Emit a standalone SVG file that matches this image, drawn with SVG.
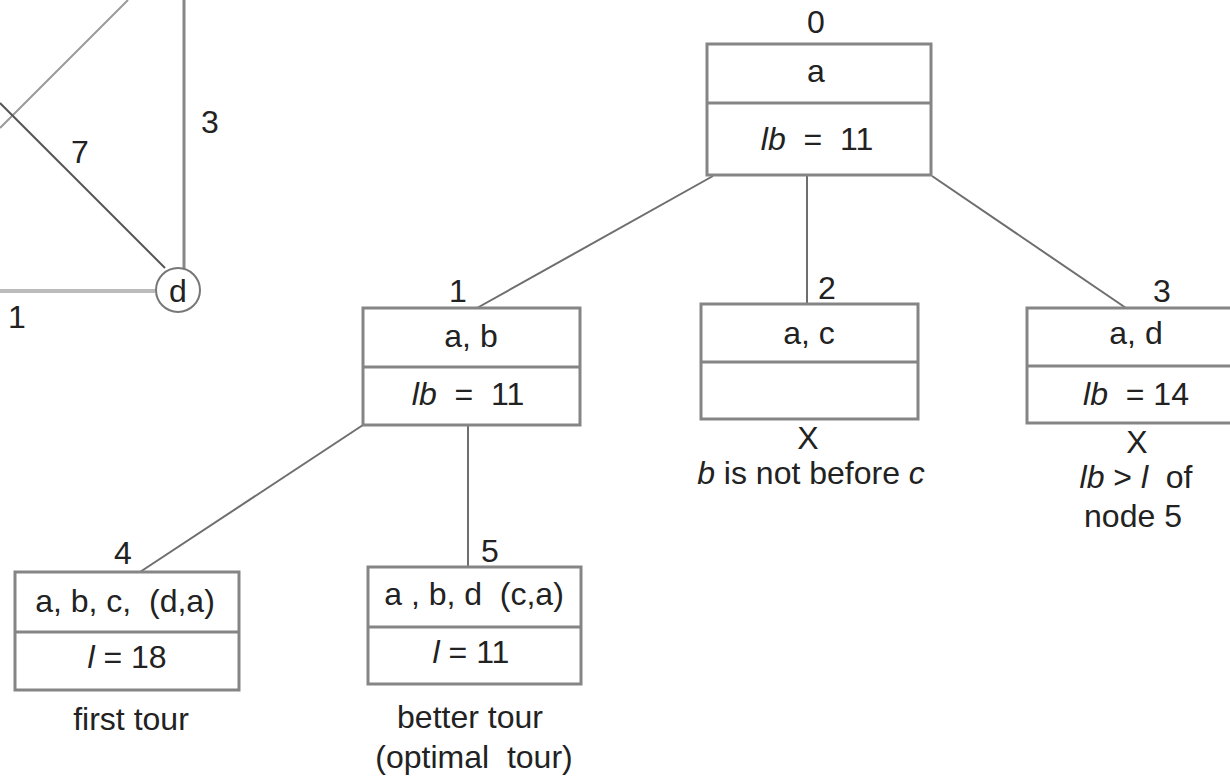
<svg xmlns="http://www.w3.org/2000/svg" width="1230" height="777" viewBox="0 0 1230 777">
  <style>
    text { font-family: "Liberation Sans", Arial, sans-serif; font-size: 32px; fill: #222; text-anchor: middle; }
    .i { font-style: italic; }
    .box { fill: #fff; stroke: #858585; stroke-width: 3; }
    .div { stroke: #858585; stroke-width: 3; }
    .edge { stroke: #6e6e6e; stroke-width: 2; fill: none; }
  </style>

  <!-- partial graph in the upper left -->
  <g id="graph">
    <line x1="128" y1="0" x2="0" y2="128" stroke="#9a9a9a" stroke-width="2"/>
    <line x1="0" y1="103" x2="165" y2="268" stroke="#555" stroke-width="2"/>
    <line x1="184" y1="0" x2="184" y2="269" stroke="#888" stroke-width="3"/>
    <line x1="0" y1="291" x2="155" y2="291" stroke="#bbb" stroke-width="4"/>
    <circle cx="178" cy="290" r="22" fill="#fff" stroke="#777" stroke-width="2"/>
    <text x="178" y="302">d</text>
    <text x="80" y="163">7</text>
    <text x="210" y="133">3</text>
    <text x="17" y="328">1</text>
  </g>

  <!-- tree edges -->
  <g id="connectors">
    <line class="edge" x1="713" y1="176" x2="477" y2="308"/>
    <line class="edge" x1="807" y1="176" x2="807" y2="304"/>
    <line class="edge" x1="932" y1="176" x2="1126" y2="308"/>
    <line class="edge" x1="363" y1="425" x2="140" y2="572"/>
    <line class="edge" x1="468" y1="425" x2="468" y2="567"/>
  </g>

  <g id="node0">
    <text x="816" y="33">0</text>
    <rect class="box" x="707" y="44" width="224" height="131"/>
    <line class="div" x1="707" y1="103" x2="931" y2="103"/>
    <text x="816" y="82">a</text>
    <text x="817" y="150" xml:space="preserve"><tspan class="i">lb</tspan>  =  11</text>
  </g>

  <g id="node1">
    <text x="458" y="302">1</text>
    <rect class="box" x="363" y="308" width="217" height="117"/>
    <line class="div" x1="363" y1="367" x2="580" y2="367"/>
    <text x="471" y="347">a, b</text>
    <text x="468" y="405" xml:space="preserve"><tspan class="i">lb</tspan>  =  11</text>
  </g>

  <g id="node2">
    <text x="827" y="299">2</text>
    <rect class="box" x="701" y="304" width="217" height="115"/>
    <line class="div" x1="701" y1="362" x2="918" y2="362"/>
    <text x="809" y="344">a, c</text>
    <text x="808" y="449">X</text>
    <text x="811" y="484"><tspan class="i">b</tspan> is not before <tspan class="i">c</tspan></text>
  </g>

  <g id="node3">
    <text x="1162" y="302">3</text>
    <rect class="box" x="1027" y="308" width="215" height="115"/>
    <line class="div" x1="1027" y1="366" x2="1242" y2="366"/>
    <text x="1136" y="344">a, d</text>
    <text x="1136" y="405" xml:space="preserve"><tspan class="i">lb</tspan>  = 14</text>
    <text x="1137" y="453">X</text>
    <text x="1136" y="488" xml:space="preserve"><tspan class="i">lb</tspan> &gt; <tspan class="i">l</tspan>  of</text>
    <text x="1133" y="527">node 5</text>
  </g>

  <g id="node4">
    <text x="123" y="564">4</text>
    <rect class="box" x="15" y="572" width="224" height="118"/>
    <line class="div" x1="15" y1="632" x2="239" y2="632"/>
    <text x="125" y="612" xml:space="preserve">a, b, c,  (d,a)</text>
    <text x="127" y="668"><tspan class="i">l</tspan> = 18</text>
    <text x="131" y="730">first tour</text>
  </g>

  <g id="node5">
    <text x="490" y="562">5</text>
    <rect class="box" x="368" y="567" width="213" height="117"/>
    <line class="div" x1="368" y1="627" x2="581" y2="627"/>
    <text x="474" y="605" xml:space="preserve">a , b, d  (c,a)</text>
    <text x="471" y="663"><tspan class="i">l</tspan> = 11</text>
    <text x="470" y="728">better tour</text>
    <text x="474" y="768" xml:space="preserve">(optimal  tour)</text>
  </g>
</svg>
